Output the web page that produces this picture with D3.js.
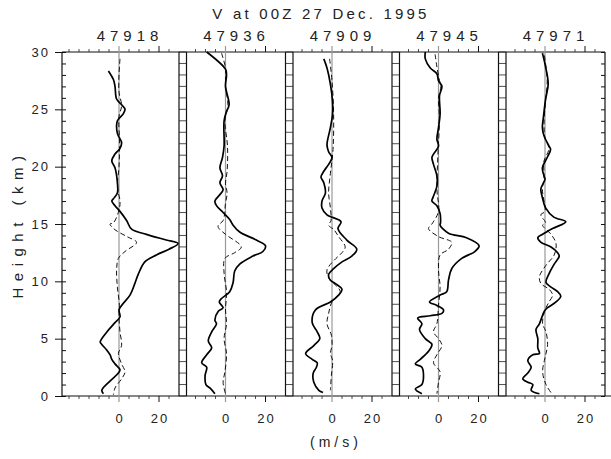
<!DOCTYPE html>
<html>
<head>
<meta charset="utf-8">
<script src="https://cdn.jsdelivr.net/npm/d3@7"></script>
<style>
  body { margin: 0; background: #fff; }
  text { font-family: "Liberation Sans", Arial, sans-serif; fill: #222; }
</style>
</head>
<body>
<div id="chart"></div>
<script>
// V profiles at 00Z 27 Dec. 1995, five stations

var stations = ["47918", "47936", "47909", "47945", "47971"];

// [height (km), V (m/s)]
var solid47918 = [[28.35,-5.3],[27.6,-2.8],[27,-2],[25.9,-1.2],[25.4,1.3],[25,3],[24.6,2.1],[24,-0.8],[22.9,-0.8],[22.1,1.3],[21.6,0.5],[21.1,-2],[20.5,-3.6],[19.9,-2],[18.6,-0.8],[17.7,-0.8],[17.2,-2.8],[17,-3.6],[16.6,-2],[16.1,0.5],[15.3,3.8],[14.55,6.3],[14.1,13.7],[13.6,23.6],[13.3,29.5],[12.8,25],[12.3,18.7],[11.7,12.9],[10.6,9.6],[9.8,7.9],[8.8,5.5],[7.9,1.3],[7.5,0],[6.9,0.5],[6.4,-2],[5.6,-6],[4.7,-9.4],[4.5,-8.6],[4.0,-6.1],[3.6,-4.5],[3.2,-3.6],[2.8,-2],[2.3,0.5],[2.0,-0.3],[1.3,-4.5],[0.5,-8.6],[0.2,-7.8]];
var dash47918 = [[29.4,0.5],[28,0],[26.5,0],[25.3,1.3],[24.4,0],[22,0.3],[20,0],[18.2,-0.8],[17,0.5],[16.2,0],[15.1,-2.8],[15,-4.5],[14.5,-2],[13.9,4],[13.4,8.8],[12.6,3],[12,-0.3],[11,-1.2],[9.5,-0.8],[7.9,0.2],[6.9,0],[5.6,0.5],[4.4,1.3],[3.7,-0.3],[2.8,1.3],[2.1,3],[1.5,1.3],[0.7,-2],[0.1,-2.8]];

var solid47936 = [[30,-9.4],[28.5,0],[28,0.5],[27,0],[25.4,1.8],[24.8,0.5],[24,-0.7],[21.8,-0.7],[20.8,-1.5],[19.9,-2.8],[19.2,-1.5],[18.6,-2.8],[18,-1.2],[17.5,-3.1],[17,-5.3],[16.6,-4.5],[16,-1.2],[15.4,2.1],[14.9,3.8],[14.3,7.1],[13.6,15.4],[13.1,20],[12.6,18.7],[12.2,13.7],[11.5,7.1],[10.9,4.6],[9.9,3.8],[9.1,2.1],[8.5,-2],[8.2,-3.1],[7.7,-1.2],[7.4,-3.6],[6.6,-5.3],[6.3,-4.5],[5.6,-6.9],[4.8,-8.6],[4.2,-6.9],[3.6,-9.4],[2.9,-11.9],[2.5,-9.4],[1.8,-10.2],[1.0,-9.8],[0.7,-7.8],[0.2,-5.3]];
var dash47936 = [[29.9,-2],[28.6,0],[27,0],[25.4,1.2],[24,-0.3],[21.8,1],[19.6,0.8],[18.5,0],[17.7,0.8],[16.8,0],[15.3,-1.2],[14.9,-3.6],[14.7,-3.6],[14.1,0],[13,7.9],[12.5,4.6],[12,-0.3],[10.7,-0.7],[9.1,0.5],[7.5,0],[6.3,0.5],[5,-0.7],[3.7,0.5],[2.1,-0.3],[1.2,-1.2],[0.2,0]];

var solid47909 = [[29.4,-4.1],[28.6,-2.5],[27.2,-0.8],[25.6,0.3],[24.6,0.3],[23.4,-0.8],[21.9,-2.5],[21.3,-1.7],[20.8,0],[20.2,-1.7],[19.6,-4.1],[19.1,-5.5],[18.6,-4.1],[17.7,-3.3],[17,-5],[16.4,-5],[15.8,-2.5],[15.2,4.5],[14.6,3],[13.6,7.4],[12.8,12.4],[12.2,9.9],[11.7,5],[11.1,0.8],[10.6,-1.7],[10.1,-0.8],[9.8,1.7],[9.3,5],[8.8,3.3],[8.2,-0.8],[7.5,-8.3],[6.4,-9.9],[5.6,-7.4],[5,-6.1],[4.4,-9.1],[3.7,-13.2],[3.2,-9.9],[2.9,-7.4],[2.5,-7.8],[2,-9.4],[1.2,-9.1],[0.5,-6.6],[0.3,-4.5]];
var dash47909 = [[29.4,-1.2],[27.5,0],[24.6,0.8],[21.5,0.5],[19.4,-0.8],[17.7,-1.7],[16.4,-0.8],[15.3,-0.5],[14.9,-1.7],[14.5,1],[13.9,3.3],[13,6.6],[12.5,5],[12,2],[11,-2.5],[10.3,-1.7],[9.8,1],[9.1,4.1],[8.2,0],[7.2,-1.7],[6.3,-2.5],[5.3,-0.3],[4.4,0],[3.7,-0.8],[3.1,0.3],[1.8,-0.3],[0.5,-0.8]];

var solid47945 = [[30,-6.6],[29.4,-6.6],[28.6,-4.1],[28.1,-0.8],[27.5,0],[27,1.7],[26.2,0.5],[24.6,0.8],[23.4,0],[22.4,-0.8],[21.8,0],[21.1,-2.5],[20.8,-3.3],[20.2,-2.5],[19.2,-0.8],[18.3,-0.8],[17.3,-2.8],[17,-3.3],[16.6,-0.8],[15.9,0.8],[15.1,1],[14.9,0.8],[14.2,5],[13.8,14],[13.1,20.3],[12.6,18.2],[12,11.6],[11.1,6.6],[10.1,5],[9.1,4.1],[8.8,0.8],[8.2,-4.5],[7.9,-0.8],[7.5,2.5],[7.2,1.7],[7,-4.1],[6.8,-10.4],[6.3,-8.3],[5.8,-9.5],[5,-6.6],[4.5,-3.3],[3.9,-5],[3.2,-9.1],[2.8,-11.6],[2.5,-8.3],[1.8,-7.5],[1,-8.3],[0.6,-11.6],[0.2,-8.3]];
var dash47945 = [[29.8,-1.7],[28.7,-0.8],[27.5,0.5],[27,1.2],[26,0],[24.3,0.5],[21,-0.3],[18,-0.8],[16.1,0],[15,-3.3],[14.6,-5],[13.9,0],[13.4,6.6],[12.8,5],[12.3,0.8],[11,0],[9.5,0.8],[7.9,0],[6.3,-0.8],[5.6,-2.5],[5,0],[4.4,1.7],[3.6,-0.8],[2.9,-2.5],[2.1,0.8],[1.2,0],[0.2,-0.8]];

var solid47971 = [[29.9,-1.3],[28.7,0.3],[27.2,1.6],[25.9,0.3],[24.3,-0.8],[23.4,-1.3],[22.7,-0.5],[21.8,2],[21.5,2.8],[20.8,1.1],[19.9,-1.3],[19.2,-0.5],[18.9,0],[18.3,-1.6],[18,-2.1],[17.3,-1.3],[16.4,0.3],[15.6,4.4],[15.2,10.4],[14.6,3.8],[14.1,-1.2],[13.8,-3.6],[13.4,-2],[13,3],[12.5,6.3],[12.2,7.1],[11.5,4.6],[10.7,2.1],[9.9,0.5],[9.5,3],[9.1,6.3],[8.7,7.9],[8.2,5.5],[7.7,1.3],[7.4,-0.3],[6.3,-2.8],[5.8,-4.5],[5,-3.6],[4.2,-3.6],[3.7,-2.8],[3.6,-6.1],[3.1,-8.6],[2.5,-6.9],[2,-8.6],[1.5,-11.1],[1.2,-8.6],[1,-6.1],[0.5,-6.9],[0.2,-2.8]];
var dash47971 = [[29.7,-0.3],[27.5,1.1],[25.8,0.3],[23.7,-0.5],[22.5,0],[21.6,2],[21,0.8],[20.5,-0.5],[19,-0.5],[18,-1.3],[17,-0.5],[16.1,0],[15.8,-2.1],[15.1,0.3],[14.9,-1.2],[14.1,3],[13.3,5.5],[12.3,4.6],[11.4,0.5],[10.4,-2.8],[9.8,-2],[9.3,2.1],[8.8,3.8],[8.2,2],[7.5,0],[6.3,-1.2],[5.6,0.5],[4.5,1.3],[3.7,0.5],[3.1,-0.3],[2.1,-1.2],[1,0.5],[0.1,3.8]];

var solidLines = [solid47918, solid47936, solid47909, solid47945, solid47971];
var dashLines = [dash47918, dash47936, dash47909, dash47945, dash47971];

var heightTicks = [0, 5, 10, 15, 20, 25, 30];
var speedLabels = [0, 20];
var speedMinor = [-25, -20, -15, -10, -5, 5, 10, 15, 25];

// layout
var svgWidth = 611, svgHeight = 459;
var plotLeft = 62, plotRight = 605, plotTop = 52, plotBottom = 396;
var firstZero = 119, panelStep = 106.5, ladderGap = 7.5;

var svg = d3.select("#chart").append("svg")
    .attr("width", svgWidth)
    .attr("height", svgHeight);

var y = d3.scaleLinear().domain([0, 30]).range([plotBottom, plotTop]);

function panelScale(i) {
    var z = firstZero + i * panelStep;
    return d3.scaleLinear().domain([-30, 30]).range([z - 60, z + 60]);
}

// title and labels
svg.append("text")
    .attr("x", 321).attr("y", 19)
    .attr("text-anchor", "middle")
    .attr("font-size", "15px")
    .attr("letter-spacing", "3.2px")
    .attr("fill", "#333")
    .text("V at 00Z 27 Dec. 1995");

svg.append("text")
    .attr("transform", "translate(23," + ((plotTop + plotBottom) / 2) + ") rotate(-90)")
    .attr("text-anchor", "middle")
    .attr("font-size", "15px")
    .attr("letter-spacing", "6.5px")
    .attr("fill", "#333")
    .text("Height (km)");

svg.append("text")
    .attr("x", 336).attr("y", 447)
    .attr("text-anchor", "middle")
    .attr("font-size", "14px")
    .attr("letter-spacing", "4px")
    .attr("fill", "#333")
    .text("(m/s)");

// left height axis
svg.append("g")
    .attr("transform", "translate(" + plotLeft + ",0)")
    .call(d3.axisLeft(y).tickValues(heightTicks).tickSize(7).tickPadding(5))
    .call(function(g) { g.select(".domain").remove(); })
    .call(function(g) {
        g.selectAll("text").attr("font-size", "13px").attr("letter-spacing", "2px")
            .style("font-family", "Liberation Sans, Arial, sans-serif").attr("fill", "#222");
    });

svg.append("g")
    .attr("transform", "translate(" + plotLeft + ",0)")
    .call(d3.axisRight(y).tickValues(d3.range(0, 31)).tickSize(4).tickFormat(""))
    .call(function(g) { g.select(".domain").remove(); });

// right edge
svg.append("g")
    .attr("transform", "translate(" + plotRight + ",0)")
    .call(d3.axisLeft(y).tickValues(d3.range(0, 31)).tickSize(4).tickFormat(""))
    .call(function(g) { g.select(".domain").remove(); });

svg.selectAll(".tick line").attr("stroke", "#111");

var frame = svg.append("g").attr("stroke", "#111").attr("stroke-width", 1.2);
frame.append("line").attr("x1", plotLeft).attr("x2", plotLeft).attr("y1", plotTop).attr("y2", plotBottom);
frame.append("line").attr("x1", plotRight).attr("x2", plotRight).attr("y1", plotTop).attr("y2", plotBottom);
frame.append("line").attr("x1", plotLeft).attr("x2", plotRight).attr("y1", plotTop).attr("y2", plotTop);
frame.append("line").attr("x1", plotLeft).attr("x2", plotRight + 6).attr("y1", plotBottom).attr("y2", plotBottom);

var line = d3.line().curve(d3.curveCatmullRom.alpha(0.5));

stations.forEach(function(st, i) {

    var x = panelScale(i);
    var xMin = i === 0 ? plotLeft : panelScale(i - 1)(30) + ladderGap;
    var xMax = x(30);

    var panel = svg.append("g");

    // ladder between this panel and the previous one
    if (i > 0) {
        var xa = panelScale(i - 1)(30);
        panel.append("line").attr("x1", xa).attr("x2", xa).attr("y1", plotTop).attr("y2", plotBottom)
            .attr("stroke", "#111").attr("stroke-width", 1.2);
        panel.append("line").attr("x1", xMin).attr("x2", xMin).attr("y1", plotTop).attr("y2", plotBottom)
            .attr("stroke", "#111").attr("stroke-width", 1.2);
        panel.selectAll(".rung")
            .data(d3.range(0, 31))
            .enter()
            .append("line")
            .attr("x1", xa).attr("x2", xMin)
            .attr("y1", function(d) { return y(d); })
            .attr("y2", function(d) { return y(d); })
            .attr("stroke", "#222").attr("stroke-width", 0.8);
    }

    // zero line
    panel.append("line")
        .attr("x1", x(0)).attr("x2", x(0))
        .attr("y1", plotTop - 6).attr("y2", plotBottom + 6)
        .attr("stroke", "#999").attr("stroke-width", 1.2);

    // speed ticks, top and bottom
    var minor = speedMinor.filter(function(v) { return x(v) > xMin + 2 && x(v) < xMax - 2; });

    [plotTop, plotBottom].forEach(function(yy) {
        var dir = yy === plotTop ? -1 : 1;
        panel.selectAll(null)
            .data(minor)
            .enter()
            .append("line")
            .attr("x1", function(d) { return x(d); })
            .attr("x2", function(d) { return x(d); })
            .attr("y1", yy).attr("y2", yy + dir * 3)
            .attr("stroke", "#222").attr("stroke-width", 0.8);
        panel.append("line")
            .attr("x1", x(20)).attr("x2", x(20))
            .attr("y1", yy).attr("y2", yy + dir * 6)
            .attr("stroke", "#111").attr("stroke-width", 1);
    });

    panel.selectAll(".speedlabel")
        .data(speedLabels)
        .enter()
        .append("text")
        .attr("x", function(d) { return x(d) + 1; })
        .attr("y", 423)
        .attr("text-anchor", "middle")
        .attr("font-size", "13px")
        .attr("letter-spacing", "2px")
        .text(function(d) { return d; });

    // station label
    svg.append("text")
        .attr("x", x(5.5))
        .attr("y", 41)
        .attr("text-anchor", "middle")
        .attr("font-size", "15px")
        .attr("letter-spacing", "5px")
        .attr("fill", "#333")
        .text(st);

    // profiles
    line.x(function(d) { return x(d[1]); }).y(function(d) { return y(d[0]); });

    panel.append("path")
        .attr("d", line(dashLines[i]))
        .attr("fill", "none")
        .attr("stroke", "#111")
        .attr("stroke-width", 1)
        .attr("stroke-dasharray", "5,3");

    panel.append("path")
        .attr("d", line(solidLines[i]))
        .attr("fill", "none")
        .attr("stroke", "#000")
        .attr("stroke-width", 1.7);
});
</script>
</body>
</html>
